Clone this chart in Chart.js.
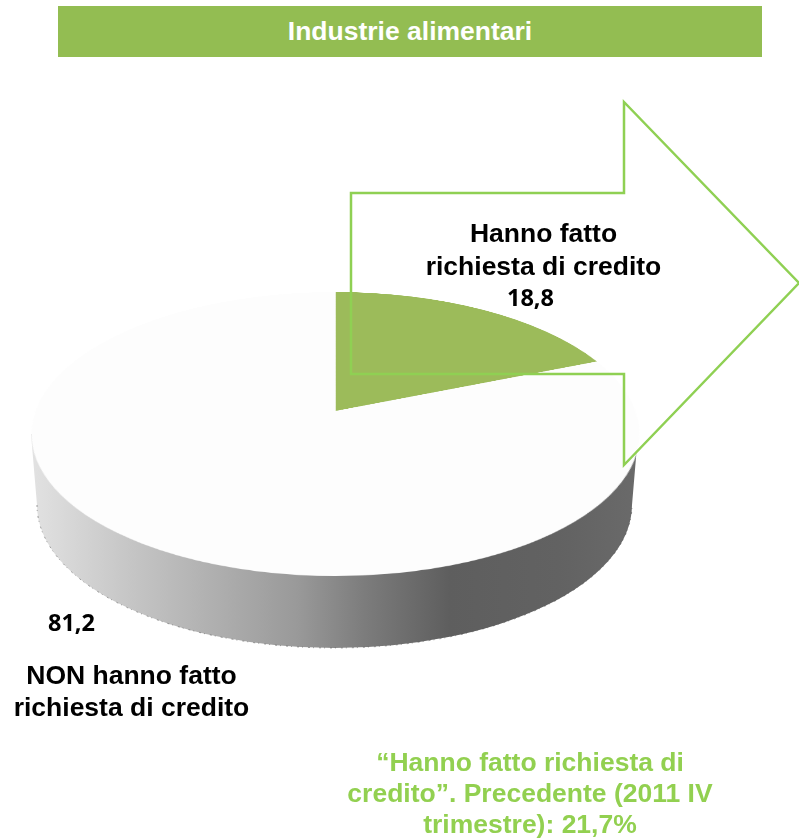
<!DOCTYPE html>
<html lang="it">
<head>
<meta charset="utf-8">
<title>Industrie alimentari</title>
<script src="https://cdn.jsdelivr.net/npm/chart.js@4"></script>
<style>
  html, body { margin: 0; padding: 0; background: #fff; }
  #page { position: relative; width: 799px; height: 840px; overflow: hidden; font-family: "Liberation Sans", Arial, sans-serif; }
  #pie { position: absolute; left: 0; top: 0; }
  .txt { position: absolute; font-weight: bold; text-align: center; color: #000; white-space: nowrap; }
  #titleBar { position: absolute; left: 58px; top: 6px; width: 704px; height: 51px; line-height: 51px; background: #93bd52; color: #fff; font-size: 26.5px; font-weight: bold; text-align: center; }
  #yesLabel { left: 393.5px; top: 217px; width: 300px; font-size: 26.5px; line-height: 33px; }
  #noLabel { left: 1.5px; top: 659px; width: 260px; font-size: 26.5px; line-height: 32px; }
  .num { font-family: "Open Sans", sans-serif; font-size: 23.5px; line-height: 28px; }
  #yesValue { left: 480.5px; top: 283px; width: 100px; }
  #noValue { left: 21.5px; top: 608px; width: 100px; }
  #prevNote { left: 330px; top: 747px; width: 400px; font-size: 26.5px; line-height: 31px; color: #92d050; }
</style>
</head>
<body>
<div id="page">
  <canvas id="pie" width="799" height="840"></canvas>
  <div id="titleBar">Industrie alimentari</div>
  <div class="txt" id="yesLabel">Hanno fatto<br>richiesta di credito</div>
  <div class="txt num" id="yesValue"></div>
  <div class="txt num" id="noValue"></div>
  <div class="txt" id="noLabel">NON hanno fatto<br>richiesta di credito</div>
  <div class="txt" id="prevNote">“Hanno fatto richiesta di<br>credito”. Precedente (2011 IV<br>trimestre): 21,7%</div>
</div>
<script>
// Chart data
const categories = ["Hanno fatto richiesta di credito", "NON hanno fatto richiesta di credito"];
const shares = [18.8, 81.2];
const sliceColors = ["#9cbb5a", "#fdfdfd"];

// Outline of the callout arrow
const arrowX = [351, 624, 624, 799, 624, 624, 351];
const arrowY = [193, 193, 102, 283, 465, 374, 374];

// Tilt of the pie: flat disc centre/radius and its perspective view
const cx = 335.5;
const cy = 411;
const radius = 300;
const tilt = 0.162;
const squash = 138.3;

// Y on the flat disc (-1..1) for a row of the tilted view
function discY(row) {
  const t = cy - row;
  return t / (squash - tilt * t);
}

// Grey side wall under the top surface
function drawWall(ctx) {
  const grad = ctx.createLinearGradient(31, 0, 638, 0);
  grad.addColorStop(0, "#e2e2e2");
  grad.addColorStop(0.16, "#c6c6c6");
  grad.addColorStop(0.44, "#999999");
  grad.addColorStop(0.55, "#7c7c7c");
  grad.addColorStop(0.69, "#5e5e5e");
  grad.addColorStop(0.87, "#626262");
  grad.addColorStop(1, "#6a6a6a");
  ctx.save();
  ctx.beginPath();
  ctx.moveTo(31, 434);
  ctx.lineTo(37, 505);
  ctx.ellipse(334.5, 505, 297.5, 143, 0, Math.PI, 0, true);
  ctx.lineTo(638, 434);
  ctx.closePath();
  ctx.fillStyle = grad;
  ctx.fill();
  // rough speckled lower edge
  ctx.beginPath();
  ctx.ellipse(334.5, 505, 297.5, 143, 0, Math.PI, 0, true);
  ctx.setLineDash([2, 3, 1, 5]);
  ctx.strokeStyle = "rgba(70, 70, 70, 0.5)";
  ctx.lineWidth = 1;
  ctx.stroke();
  ctx.restore();
}

// Redraws the flat pie row by row so it looks tilted
const tiltPlugin = {
  id: "tiltPie",
  afterDatasetsDraw(chart) {
    const ctx = chart.ctx;
    const flat = document.createElement("canvas");
    flat.width = chart.width;
    flat.height = chart.height;
    flat.getContext("2d").drawImage(chart.canvas, 0, 0);
    ctx.clearRect(0, 0, chart.width, chart.height);
    drawWall(ctx);
    for (let row = 288; row < 580; row++) {
      const y0 = discY(row);
      const y1 = discY(row + 1);
      if (y0 > 1.02 || y1 < -1.02) continue;
      const w = 1 + tilt * (y0 + y1) / 2;
      const sy = cy - radius * y0;
      const sh = radius * (y0 - y1);
      const span = radius + 4;
      ctx.drawImage(flat, cx - span, sy, span * 2, sh, cx - span / w, row, (span * 2) / w, 1);
    }
  },
  afterDraw(chart) {
    const ctx = chart.ctx;
    ctx.save();
    ctx.beginPath();
    arrowX.forEach((x, i) => (i ? ctx.lineTo(x, arrowY[i]) : ctx.moveTo(x, arrowY[i])));
    ctx.closePath();
    ctx.strokeStyle = "#8fd053";
    ctx.lineWidth = 2.5;
    ctx.stroke();
    ctx.restore();
  },
};

const formatShare = (v) => v.toFixed(1).replace(".", ",");
document.getElementById("yesValue").textContent = formatShare(shares[0]);
document.getElementById("noValue").textContent = formatShare(shares[1]);

new Chart(document.getElementById("pie").getContext("2d"), {
  type: "pie",
  data: {
    labels: categories,
    datasets: [
      {
        data: shares,
        backgroundColor: sliceColors,
        borderWidth: 0,
      },
    ],
  },
  options: {
    responsive: false,
    animation: false,
    layout: {
      padding: { left: cx - radius, right: 799 - cx - radius, top: cy - radius, bottom: 840 - cy - radius },
    },
    plugins: {
      legend: { display: false },
      tooltip: { enabled: false },
      title: { display: false },
    },
  },
  plugins: [tiltPlugin],
});
</script>
</body>
</html>
